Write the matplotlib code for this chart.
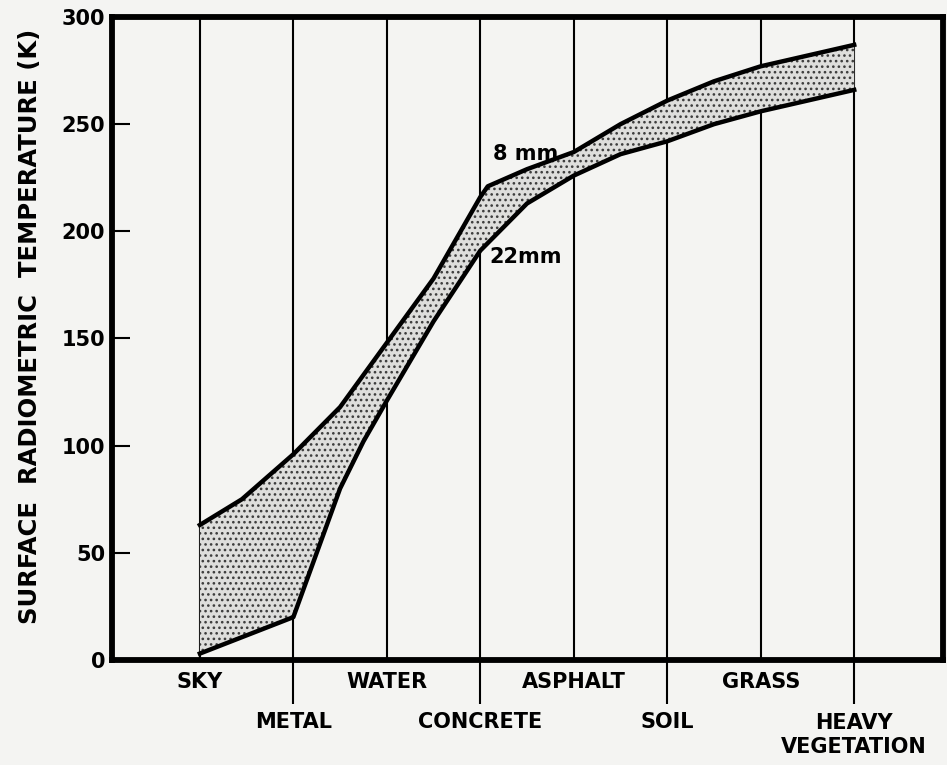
import matplotlib
matplotlib.use("Agg")
import matplotlib.pyplot as plt
from matplotlib import transforms

# surface categories along the x axis (one vertical rule per category)
categories = ["SKY", "METAL", "WATER", "CONCRETE", "ASPHALT", "SOIL", "GRASS",
              "HEAVY\nVEGETATION"]

# brightness temperature bounds (K) read along the category axis
x_8mm = [0, 0.45, 1, 1.5, 2, 2.5, 3, 3.08, 3.5, 4, 4.5, 5, 5.5, 6, 6.5, 7]
t_8mm = [63, 75, 96, 118, 148, 178, 216, 221, 229, 237, 250, 261, 270, 277, 282, 287]

x_22mm = [0, 1, 1.25, 1.5, 1.75, 2, 2.5, 3, 3.5, 4, 4.5, 5, 5.5, 6, 6.5, 7]
t_22mm = [3, 20, 50, 80, 102, 121, 158, 191, 213, 226, 236, 242, 250, 256, 261, 266]

yticks = [0, 50, 100, 150, 200, 250, 300]

plt.rcParams['font.family'] = ['DejaVu Sans']
plt.rcParams['font.weight'] = 'bold'
plt.rcParams['hatch.linewidth'] = 1.1

bg = '#f4f4f2'
fig = plt.figure(figsize=(9.47, 7.65), dpi=100, facecolor=bg)
ax = fig.add_axes([112 / 947, 1 - 660 / 765, 831 / 947, 643 / 765])
ax.set_facecolor(bg)

ax.set_xlim(-0.94, 7.95)
ax.set_ylim(0, 300)

# vertical rules for each surface type
for i in range(len(categories)):
    ax.axvline(i, color='black', lw=1.5, zorder=1)

# stippled band between the two channels
poly_x = x_8mm + x_22mm[::-1]
poly_y = t_8mm + t_22mm[::-1]
ax.fill(poly_x, poly_y, facecolor='#dededc', edgecolor='#3c3c3c', lw=0,
        hatch='...', zorder=2)
ax.plot(x_8mm, t_8mm, color='black', lw=3.2, solid_joinstyle='round', zorder=3)
ax.plot(x_22mm, t_22mm, color='black', lw=3.2, solid_joinstyle='round', zorder=3)

ax.text(3.14, 236, "8 mm", fontsize=15, va='center', ha='left', zorder=4)
ax.text(3.1, 188, "22mm", fontsize=15, va='center', ha='left', zorder=4)

for side in ['left', 'right', 'top', 'bottom']:
    ax.spines[side].set_linewidth(4.2)

ax.set_yticks(yticks)
ax.set_yticklabels([str(v) for v in yticks])
ax.tick_params(axis='y', direction='in', length=13, width=1.5, pad=5, labelsize=15)

# only every other category gets a tick below the axis
ax.set_xticks([1, 3, 5, 7])
ax.set_xticklabels([])
ax.tick_params(axis='x', direction='out', length=32, width=1.5)

trans = transforms.blended_transform_factory(ax.transData, ax.transAxes)
for i, name in enumerate(categories):
    if i % 2 == 0:
        ax.text(i, -0.034, name, transform=trans, ha='center', va='center', fontsize=15)
    elif '\n' in name:
        ax.text(i, -0.083, name, transform=trans, ha='center', va='top',
                fontsize=15, linespacing=1.2)
    else:
        ax.text(i, -0.096, name, transform=trans, ha='center', va='center', fontsize=15)

fig.text(30 / 947, 1 - 326 / 765, "SURFACE  RADIOMETRIC  TEMPERATURE (K)",
         rotation=90, ha='center', va='center', fontsize=17.5)

fig.savefig("out.png", dpi=100, facecolor=bg)
